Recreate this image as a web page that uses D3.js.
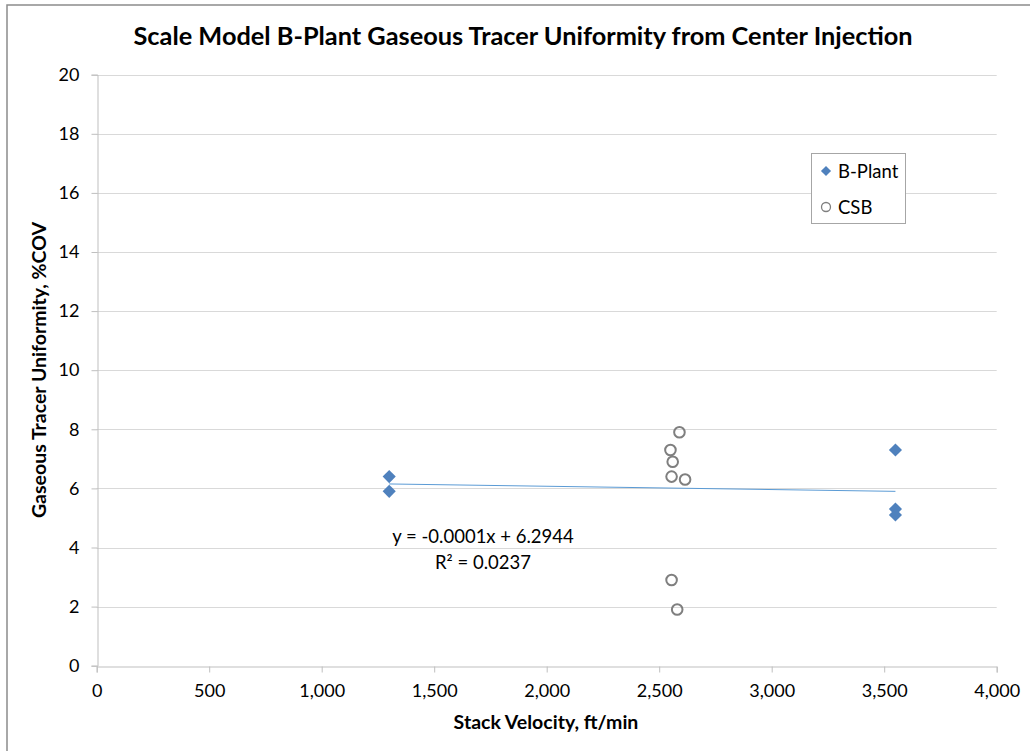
<!DOCTYPE html>
<html>
<head>
<meta charset="utf-8">
<script src="https://cdn.jsdelivr.net/npm/d3@7"></script>
<style>
  body { margin: 0; background: #fff; }
  text { font-family: Lato, "Open Sans", sans-serif; fill: #000; }
</style>
</head>
<body>
<div id="chart"></div>
<script>
var width = 1030, height = 751;

// data
var bPlantX = [1300, 1300, 3550, 3550, 3550];
var bPlantY = [6.4, 5.9, 7.3, 5.3, 5.1];
var csbX = [2590, 2550, 2560, 2555, 2615, 2555, 2580];
var csbY = [7.9, 7.3, 6.9, 6.4, 6.3, 2.9, 1.9];
var xTicks = [0, 500, 1000, 1500, 2000, 2500, 3000, 3500, 4000];
var yTicks = [0, 2, 4, 6, 8, 10, 12, 14, 16, 18, 20];
var seriesNames = ['B-Plant', 'CSB'];
var trendLabel = ['y = -0.0001x + 6.2944', 'R\u00b2 = 0.0237'];

var x = d3.scaleLinear().domain([0, 4000]).range([96.7, 996.7]);
var y = d3.scaleLinear().domain([0, 20]).range([665.7, 74.7]);

var svg = d3.select('#chart').append('svg')
  .attr('width', width)
  .attr('height', height);

// outer chart border (only top and left show in the picture)
svg.append('rect')
  .attr('x', 7).attr('y', 5)
  .attr('width', width + 20).attr('height', height + 20)
  .attr('fill', 'none').attr('stroke', '#8c8c8c').attr('stroke-width', 1.5);

svg.append('text')
  .attr('x', 523).attr('y', 45)
  .attr('text-anchor', 'middle')
  .attr('font-size', 25).attr('font-weight', 'bold')
  .attr('textLength', 779).attr('lengthAdjust', 'spacingAndGlyphs')
  .text('Scale Model B-Plant Gaseous Tracer Uniformity from Center Injection');

// horizontal gridlines
svg.append('g').selectAll('line')
  .data(yTicks.slice(1))
  .enter().append('line')
  .attr('x1', x(0)).attr('x2', x(4000))
  .attr('y1', d => Math.round(y(d)) + 0.5).attr('y2', d => Math.round(y(d)) + 0.5)
  .attr('stroke', '#d9d9d9');

// axes
var xAxis = svg.append('g')
  .attr('transform', 'translate(0,' + (Math.round(y(0)) + 0.5) + ')')
  .call(d3.axisBottom(x).tickValues(xTicks).tickSize(6).tickPadding(9)
    .tickFormat(d3.format(',')));
var yAxis = svg.append('g')
  .attr('transform', 'translate(' + (Math.round(x(0)) + 0.5) + ',0)')
  .call(d3.axisLeft(y).tickValues(yTicks).tickSize(6).tickPadding(12));
[xAxis, yAxis].forEach(function (a) {
  a.select('.domain').attr('stroke', '#bfbfbf');
  a.selectAll('.tick line').attr('stroke', '#bfbfbf');
  a.selectAll('.tick text').attr('font-size', 18).attr('fill', '#000')
    .attr('font-family', 'Lato, "Open Sans", sans-serif');
});
xAxis.selectAll('.tick text').attr('dy', '0.85em');

svg.append('text')
  .attr('x', 546).attr('y', 729)
  .attr('text-anchor', 'middle')
  .attr('font-size', 19.5).attr('font-weight', 'bold')
  .text('Stack Velocity, ft/min');

svg.append('text')
  .attr('transform', 'translate(46,370) rotate(-90)')
  .attr('text-anchor', 'middle')
  .attr('font-size', 19.5).attr('font-weight', 'bold')
  .text('Gaseous Tracer Uniformity, %COV');

// linear trendline for B-Plant
var mx = d3.mean(bPlantX), my = d3.mean(bPlantY);
var sxy = d3.sum(bPlantX, (v, i) => (v - mx) * (bPlantY[i] - my));
var sxx = d3.sum(bPlantX, v => (v - mx) * (v - mx));
var slope = sxy / sxx, icept = my - slope * mx;
var xr = d3.extent(bPlantX);
svg.append('line')
  .attr('x1', x(xr[0])).attr('y1', y(slope * xr[0] + icept))
  .attr('x2', x(xr[1])).attr('y2', y(slope * xr[1] + icept))
  .attr('stroke', '#5b9bd5').attr('stroke-width', 1);

svg.append('text')
  .attr('x', 483).attr('y', 543)
  .attr('text-anchor', 'middle').attr('font-size', 18.5)
  .text(trendLabel[0]);
svg.append('text')
  .attr('x', 483).attr('y', 569)
  .attr('text-anchor', 'middle').attr('font-size', 18.5)
  .text(trendLabel[1]);

var diamond = d3.symbol().type(d3.symbolDiamond2).size(110);

svg.append('g').selectAll('path')
  .data(bPlantX)
  .enter().append('path')
  .attr('d', diamond)
  .attr('transform', (d, i) => 'translate(' + x(d) + ',' + y(bPlantY[i]) + ')')
  .attr('fill', '#4f81bd');

svg.append('g').selectAll('circle')
  .data(csbX)
  .enter().append('circle')
  .attr('cx', d => x(d)).attr('cy', (d, i) => y(csbY[i]))
  .attr('r', 5.3)
  .attr('fill', 'none').attr('stroke', '#7f7f7f').attr('stroke-width', 2);

// legend
var lg = svg.append('g');
lg.append('rect')
  .attr('x', 811.5).attr('y', 153.5).attr('width', 94).attr('height', 70)
  .attr('fill', '#fff').attr('stroke', '#a6a6a6');
lg.append('path')
  .attr('d', d3.symbol().type(d3.symbolDiamond2).size(65))
  .attr('transform', 'translate(826,171)')
  .attr('fill', '#4f81bd');
lg.append('circle')
  .attr('cx', 826).attr('cy', 207).attr('r', 4.5)
  .attr('fill', 'none').attr('stroke', '#7f7f7f').attr('stroke-width', 1.3);
lg.selectAll('text')
  .data(seriesNames)
  .enter().append('text')
  .attr('x', 838).attr('y', (d, i) => 177.5 + i * 36)
  .attr('font-size', 18.5)
  .text(d => d);
</script>
</body>
</html>
